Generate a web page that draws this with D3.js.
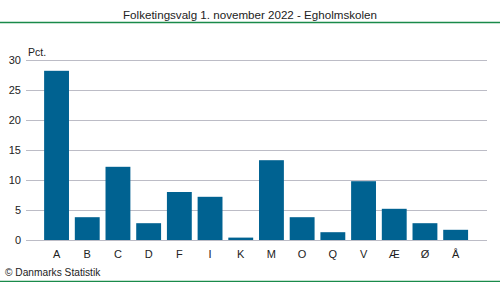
<!DOCTYPE html>
<html>
<head>
<meta charset="utf-8">
<script src="https://cdn.jsdelivr.net/npm/d3@7"></script>
<style>
  body { margin: 0; background: #fff; }
  text { font-family: "Liberation Sans", Arial, sans-serif; fill: #222; }
</style>
</head>
<body>
<div id="chart"></div>
<script>
// Data
var parties = ["A", "B", "C", "D", "F", "I", "K", "M", "O", "Q", "V", "Æ", "Ø", "Å"];
var pct = [28.2, 3.8, 12.2, 2.8, 8.0, 7.2, 0.4, 13.3, 3.8, 1.3, 9.8, 5.2, 2.8, 1.7];
var yTicks = [0, 5, 10, 15, 20, 25, 30];

var svgWidth = 500;
var svgHeight = 282;

var svg = d3.select("#chart")
  .append("svg")
  .attr("width", svgWidth)
  .attr("height", svgHeight);

// Title and green rules
svg.append("text")
  .attr("x", 250)
  .attr("y", 19)
  .attr("text-anchor", "middle")
  .attr("font-size", "11.6px")
  .text("Folketingsvalg 1. november 2022 - Egholmskolen");

svg.append("line")
  .attr("x1", 0).attr("x2", svgWidth)
  .attr("y1", 22.5).attr("y2", 22.5)
  .attr("stroke", "#1a8a4a")
  .attr("stroke-width", 1.5);

svg.append("line")
  .attr("x1", 0).attr("x2", svgWidth)
  .attr("y1", 281.5).attr("y2", 281.5)
  .attr("stroke", "#1a8a4a")
  .attr("stroke-width", 1.5);

// Scales
var xScale = d3.scaleBand()
  .domain(parties)
  .range([41.2, 471])
  .paddingInner(0.19)
  .paddingOuter(0.095);

var yScale = d3.scaleLinear()
  .domain([0, 30])
  .range([240, 60]);

// Gridlines
svg.append("g")
  .selectAll("line")
  .data(yTicks)
  .enter()
  .append("line")
  .attr("x1", 26)
  .attr("x2", 487)
  .attr("y1", d => Math.round(yScale(d)) + 0.5)
  .attr("y2", d => Math.round(yScale(d)) + 0.5)
  .attr("stroke", "#bcbcc6")
  .attr("stroke-width", 1);

// Y labels
svg.append("g")
  .selectAll("text")
  .data(yTicks)
  .enter()
  .append("text")
  .attr("x", 21)
  .attr("y", d => yScale(d) + 4)
  .attr("text-anchor", "end")
  .attr("font-size", "11px")
  .text(d => d);

svg.append("text")
  .attr("x", 28)
  .attr("y", 56)
  .attr("font-size", "10.5px")
  .text("Pct.");

// Bars
svg.append("g")
  .selectAll("rect")
  .data(pct)
  .enter()
  .append("rect")
  .attr("x", (d, i) => xScale(parties[i]))
  .attr("y", d => yScale(d))
  .attr("width", xScale.bandwidth())
  .attr("height", d => yScale(0) - yScale(d))
  .attr("fill", "#006291");

// X labels
svg.append("g")
  .selectAll("text")
  .data(parties)
  .enter()
  .append("text")
  .attr("x", d => xScale(d) + xScale.bandwidth() / 2)
  .attr("y", 258)
  .attr("text-anchor", "middle")
  .attr("font-size", "11px")
  .text(d => d);

svg.append("text")
  .attr("x", 5)
  .attr("y", 276)
  .attr("font-size", "10.2px")
  .text("© Danmarks Statistik");
</script>
</body>
</html>
